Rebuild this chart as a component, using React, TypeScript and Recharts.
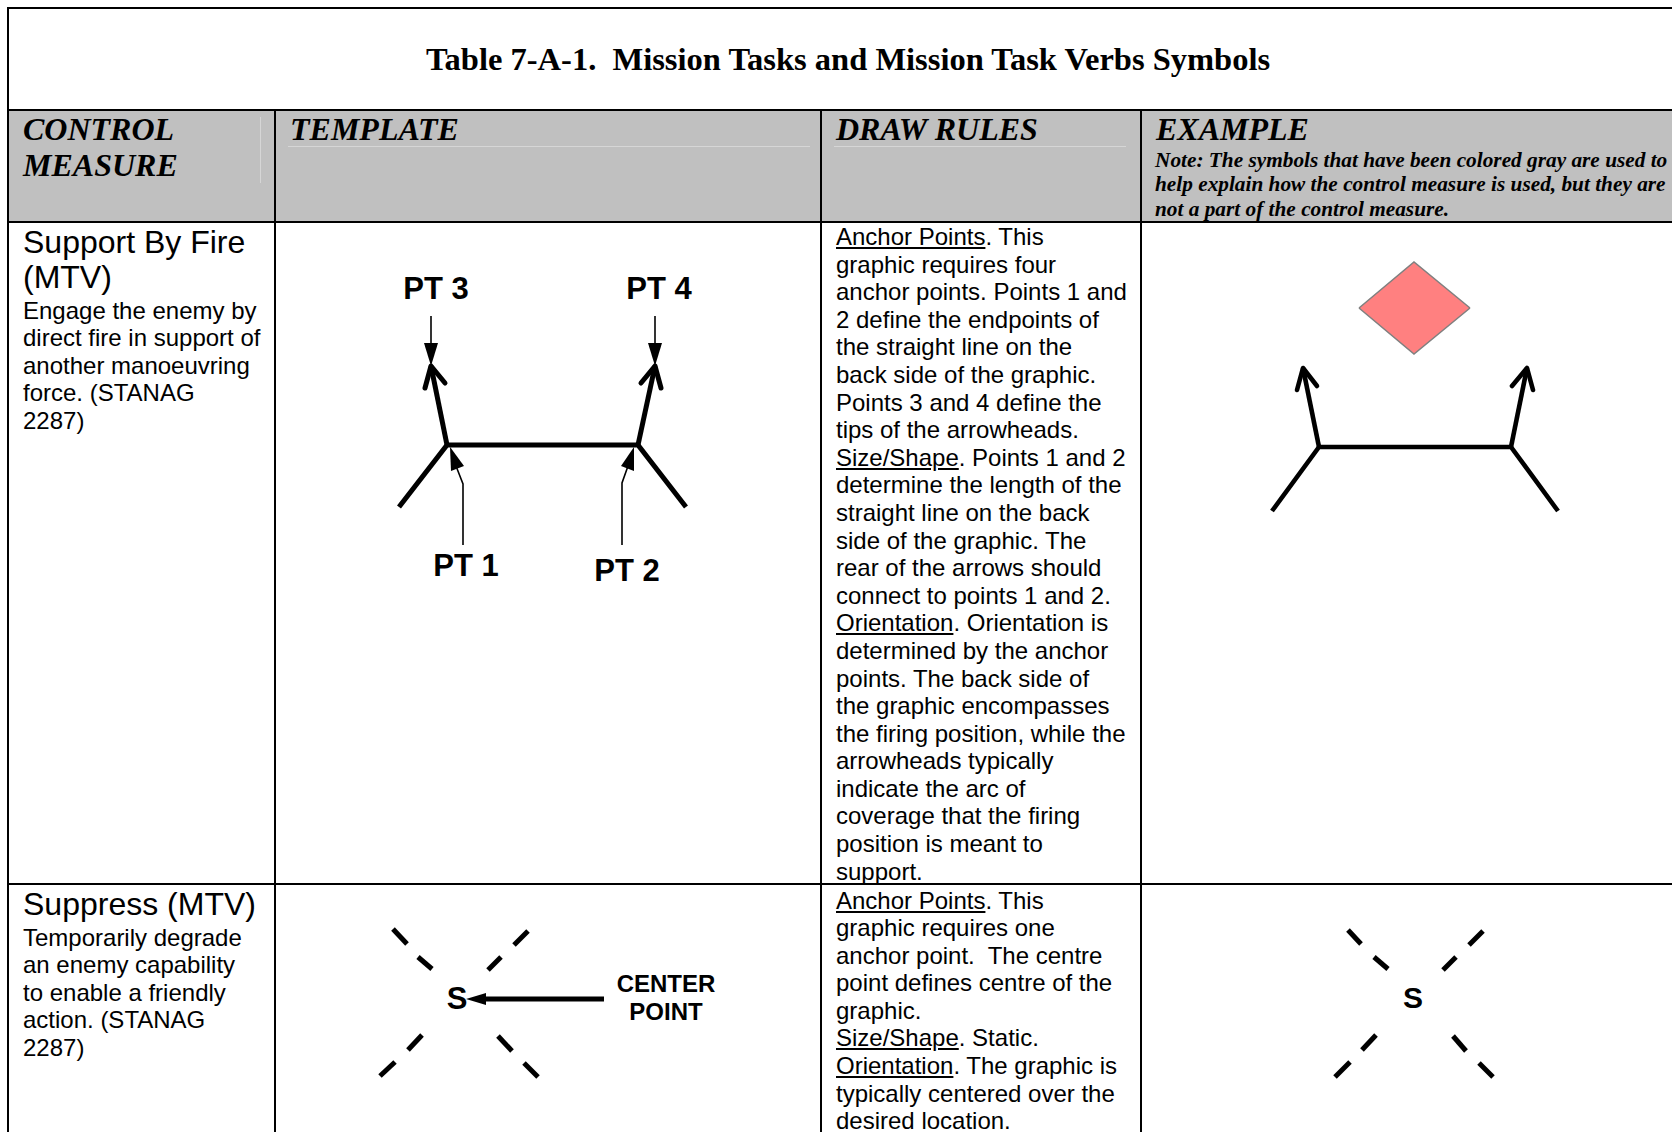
import React from "react";
import { ComposedChart, Line, Area, XAxis, YAxis } from "recharts";

type P = [number, number];

// ---------------- text content ----------------
const TITLE = "Table 7-A-1.  Mission Tasks and Mission Task Verbs Symbols";
const HEADER_CONTROL = ["CONTROL", "MEASURE"];
const HEADER_TEMPLATE = ["TEMPLATE"];
const HEADER_RULES = ["DRAW RULES"];
const HEADER_EXAMPLE = ["EXAMPLE"];
const EXAMPLE_NOTE = [
  "Note: The symbols that have been colored gray are used to",
  "help explain how the control measure is used, but they are",
  "not a part of the control measure.",
];

const SBF_NAME = ["Support By Fire", "(MTV)"];
const SBF_DESC = ["Engage the enemy by", "direct fire in support of", "another manoeuvring", "force. (STANAG", "2287)"];
const SBF_RULES = [
  "_Anchor Points_. This",
  "graphic requires four",
  "anchor points. Points 1 and",
  "2 define the endpoints of",
  "the straight line on the",
  "back side of the graphic.",
  "Points 3 and 4 define the",
  "tips of the arrowheads.",
  "_Size/Shape_. Points 1 and 2",
  "determine the length of the",
  "straight line on the back",
  "side of the graphic. The",
  "rear of the arrows should",
  "connect to points 1 and 2.",
  "_Orientation_. Orientation is",
  "determined by the anchor",
  "points. The back side of",
  "the graphic encompasses",
  "the firing position, while the",
  "arrowheads typically",
  "indicate the arc of",
  "coverage that the firing",
  "position is meant to",
  "support.",
];
const SBF_LABELS = ["PT 3", "PT 4", "PT 1", "PT 2"];

const SUP_NAME = ["Suppress (MTV)"];
const SUP_DESC = ["Temporarily degrade", "an enemy capability", "to enable a friendly", "action. (STANAG", "2287)"];
const SUP_RULES = [
  "_Anchor Points_. This",
  "graphic requires one",
  "anchor point.  The centre",
  "point defines centre of the",
  "graphic.",
  "_Size/Shape_. Static.",
  "_Orientation_. The graphic is",
  "typically centered over the",
  "desired location.",
];
const SUP_CENTER_LABEL = ["CENTER", "POINT"];
const SUP_LETTER = "S";

// ---------------- symbol geometry (anchor points) ----------------
// Support By Fire template
const SBF_T_OUTLINE: P[] = [[399, 507], [447, 445], [638, 445], [686, 507]];
const SBF_T_SHAFT_L: P[] = [[447, 445], [431, 366]];
const SBF_T_SHAFT_R: P[] = [[638, 445], [655, 366]];
const SBF_T_HEAD_L: P[] = [[425, 388], [431, 366], [445, 383]];
const SBF_T_HEAD_R: P[] = [[641, 383], [655, 366], [661, 388]];
const SBF_T_PTR3: P[] = [[431, 316], [431, 348]];
const SBF_T_PTR4: P[] = [[655, 316], [655, 348]];
const SBF_T_PTR1: P[] = [[463, 545], [463, 484], [456, 466]];
const SBF_T_PTR2: P[] = [[622, 545], [622, 483], [628, 466]];
const SBF_T_TIP3: P[] = [[424, 343], [438, 343], [431, 366]];
const SBF_T_TIP4: P[] = [[648, 343], [662, 343], [655, 366]];
const SBF_T_TIP1: P[] = [[450, 447], [464, 466], [451, 471]];
const SBF_T_TIP2: P[] = [[634, 447], [621, 466], [634, 471]];

// Support By Fire example
const SBF_E_OUTLINE: P[] = [[1272, 511], [1319, 447], [1511, 447], [1558, 511]];
const SBF_E_SHAFT_L: P[] = [[1319, 447], [1303, 368]];
const SBF_E_SHAFT_R: P[] = [[1511, 447], [1527, 368]];
const SBF_E_HEAD_L: P[] = [[1297, 390], [1303, 368], [1317, 386]];
const SBF_E_HEAD_R: P[] = [[1512, 386], [1527, 368], [1533, 390]];
const SBF_E_DIAMOND: P[] = [[1359, 308], [1414, 262], [1470, 308], [1414, 354]];

// Suppress template
const SUP_T_DASHES: P[][] = [
  [[393, 929], [407, 944]], [[418, 957], [432, 969]],
  [[528, 931], [514, 945]], [[501, 957], [488, 970]],
  [[422, 1035], [408, 1050]], [[395, 1062], [380, 1076]],
  [[498, 1036], [512, 1051]], [[524, 1063], [538, 1077]],
];
const SUP_T_ARROW: P[] = [[604, 999], [482, 999]];
const SUP_T_TIP: P[] = [[466, 999], [486, 993], [486, 1005]];

// Suppress example
const SUP_E_DASHES: P[][] = [
  [[1348, 930], [1361, 944]], [[1374, 957], [1388, 969]],
  [[1483, 931], [1469, 945]], [[1456, 957], [1443, 970]],
  [[1376, 1035], [1362, 1050]], [[1350, 1062], [1335, 1077]],
  [[1453, 1036], [1466, 1051]], [[1479, 1063], [1493, 1077]],
];

// ---------------- helpers ----------------
type StrokeSpec = { pts: P[]; width: number; color?: string; cap?: "butt" | "round" | "square"; join?: "miter" | "round" };
type FillSpec = { pts: P[]; fill: string; stroke?: string; strokeWidth?: number };

const toLine = (pts: P[]) => pts.map(([x, y]) => ({ x, y }));

// Converts a convex polygon (triangle or diamond) into a range-area series.
function toRange(pts: P[]) {
  const xs = Array.from(new Set(pts.map((p) => p[0]))).sort((a, b) => a - b);
  const edgeYs = (x: number) => {
    const ys: number[] = [];
    for (let i = 0; i < pts.length; i++) {
      const a = pts[i];
      const b = pts[(i + 1) % pts.length];
      const lo = Math.min(a[0], b[0]);
      const hi = Math.max(a[0], b[0]);
      if (x < lo || x > hi) continue;
      if (a[0] === b[0]) {
        ys.push(a[1], b[1]);
      } else {
        ys.push(a[1] + ((b[1] - a[1]) * (x - a[0])) / (b[0] - a[0]));
      }
    }
    return [Math.min(...ys), Math.max(...ys)];
  };
  return xs.map((x) => ({ x, r: edgeYs(x) }));
}

function SymbolChart({ box, strokes, fills = [] }: { box: [number, number, number, number]; strokes: StrokeSpec[]; fills?: FillSpec[] }) {
  const [x0, y0, x1, y1] = box;
  const w = x1 - x0;
  const h = y1 - y0;
  return (
    <div style={{ position: "absolute", left: x0, top: y0, width: w, height: h }}>
      <ComposedChart width={w} height={h} margin={{ top: 0, right: 0, bottom: 0, left: 0 }}>
        <XAxis type="number" dataKey="x" domain={[x0, x1]} hide allowDataOverflow />
        <YAxis type="number" domain={[y0, y1]} reversed hide allowDataOverflow />
        {fills.map((f, i) => (
          <Area
            key={"f" + i}
            data={toRange(f.pts)}
            dataKey="r"
            type="linear"
            fill={f.fill}
            fillOpacity={1}
            stroke={f.stroke ?? "none"}
            strokeWidth={f.strokeWidth ?? 0}
            dot={false}
            activeDot={false}
            isAnimationActive={false}
          />
        ))}
        {strokes.map((s, i) => (
          <Line
            key={"s" + i}
            data={toLine(s.pts)}
            dataKey="y"
            type="linear"
            stroke={s.color ?? "#000"}
            strokeWidth={s.width}
            strokeLinecap={s.cap ?? "butt"}
            strokeLinejoin={s.join ?? "miter"}
            dot={false}
            activeDot={false}
            isAnimationActive={false}
          />
        ))}
      </ComposedChart>
    </div>
  );
}

function renderRich(line: string) {
  const parts = line.split("_");
  return parts.map((p, i) =>
    i % 2 === 1 ? (
      <span key={i} style={{ textDecoration: "underline" }}>{p}</span>
    ) : (
      <span key={i}>{p}</span>
    )
  );
}

const SANS = '"Liberation Sans", Arial, sans-serif';
const SERIF = '"Liberation Serif", "Times New Roman", serif';

function TextBlock({ x, top, lines, size, lh, family, weight = 400, italic = false }: any) {
  return (
    <div
      style={{
        position: "absolute",
        left: x,
        top,
        fontFamily: family,
        fontSize: size,
        lineHeight: `${lh}px`,
        fontWeight: weight,
        fontStyle: italic ? "italic" : "normal",
        whiteSpace: "pre",
        color: "#000",
      }}
    >
      {lines.map((l: string, i: number) => (
        <div key={i}>{renderRich(l)}</div>
      ))}
    </div>
  );
}

function CLabel({ x, y, text, size, weight = 700, family = SANS }: any) {
  return (
    <div
      style={{
        position: "absolute",
        left: x,
        top: y,
        transform: "translate(-50%, -50%)",
        fontFamily: family,
        fontSize: size,
        lineHeight: `${size}px`,
        fontWeight: weight,
        whiteSpace: "pre",
        color: "#000",
      }}
    >
      {text}
    </div>
  );
}

function Rule({ x, y, w, h, color = "#000" }: any) {
  return <div style={{ position: "absolute", left: x, top: y, width: w, height: h, background: color }} />;
}

export default function App() {
  const W = 1672;
  const H = 1132;
  const thick = 5;
  const thin = 1.6;
  return (
    <div style={{ position: "relative", width: W, height: H, overflow: "hidden", background: "#fff" }}>
      <style>{"body{margin:0;}"}</style>

      {/* header fill */}
      <Rule x={9} y={111} w={W - 9} h={110} color="#C0C0C0" />
      {/* faint artefact lines inside header */}
      <Rule x={260} y={117} w={1} h={66} color="#d6d6d6" />
      <Rule x={288} y={146} w={522} h={1} color="#d6d6d6" />
      <Rule x={834} y={146} w={292} h={1} color="#d6d6d6" />

      {/* table rules */}
      <Rule x={7} y={7} w={W - 7} h={2} />
      <Rule x={7} y={7} w={2} h={H - 7} />
      <Rule x={7} y={109} w={W - 7} h={2} />
      <Rule x={7} y={221} w={W - 7} h={2} />
      <Rule x={7} y={883} w={W - 7} h={2} />
      <Rule x={274} y={109} w={2} h={H - 109} />
      <Rule x={820} y={109} w={2} h={H - 109} />
      <Rule x={1140} y={109} w={2} h={H - 109} />

      {/* title */}
      <CLabel x={848} y={59} text={TITLE} size={32.5} family={SERIF} />

      {/* headers */}
      <TextBlock x={23} top={111} lines={HEADER_CONTROL} size={32} lh={36} family={SERIF} weight={700} italic />
      <TextBlock x={290} top={111} lines={HEADER_TEMPLATE} size={32} lh={36} family={SERIF} weight={700} italic />
      <TextBlock x={836} top={111} lines={HEADER_RULES} size={32} lh={36} family={SERIF} weight={700} italic />
      <TextBlock x={1156} top={111} lines={HEADER_EXAMPLE} size={32} lh={36} family={SERIF} weight={700} italic />
      <TextBlock x={1155} top={147.5} lines={EXAMPLE_NOTE} size={21.3} lh={24.5} family={SERIF} weight={700} italic />

      {/* row 1 */}
      <TextBlock x={23} top={225} lines={SBF_NAME} size={32} lh={35.2} family={SANS} />
      <TextBlock x={23} top={296.5} lines={SBF_DESC} size={24} lh={27.6} family={SANS} />
      <TextBlock x={836} top={223} lines={SBF_RULES} size={24} lh={27.6} family={SANS} />

      <SymbolChart
        box={[276, 223, 820, 883]}
        strokes={[
          { pts: SBF_T_OUTLINE, width: thick },
          { pts: SBF_T_SHAFT_L, width: thick },
          { pts: SBF_T_SHAFT_R, width: thick },
          { pts: SBF_T_HEAD_L, width: thick, cap: "round", join: "round" },
          { pts: SBF_T_HEAD_R, width: thick, cap: "round", join: "round" },
          { pts: SBF_T_PTR3, width: thin },
          { pts: SBF_T_PTR4, width: thin },
          { pts: SBF_T_PTR1, width: thin },
          { pts: SBF_T_PTR2, width: thin },
        ]}
        fills={[
          { pts: SBF_T_TIP3, fill: "#000" },
          { pts: SBF_T_TIP4, fill: "#000" },
          { pts: SBF_T_TIP1, fill: "#000" },
          { pts: SBF_T_TIP2, fill: "#000" },
        ]}
      />
      <CLabel x={436} y={288} text={SBF_LABELS[0]} size={31} />
      <CLabel x={659} y={288} text={SBF_LABELS[1]} size={31} />
      <CLabel x={466} y={565} text={SBF_LABELS[2]} size={31} />
      <CLabel x={627} y={570} text={SBF_LABELS[3]} size={31} />

      <SymbolChart
        box={[1142, 223, W, 883]}
        strokes={[
          { pts: SBF_E_OUTLINE, width: 4.6 },
          { pts: SBF_E_SHAFT_L, width: 4.6 },
          { pts: SBF_E_SHAFT_R, width: 4.6 },
          { pts: SBF_E_HEAD_L, width: 4.6, cap: "round", join: "round" },
          { pts: SBF_E_HEAD_R, width: 4.6, cap: "round", join: "round" },
        ]}
        fills={[{ pts: SBF_E_DIAMOND, fill: "#FF8080", stroke: "#808080", strokeWidth: 1.5 }]}
      />

      {/* row 2 */}
      <TextBlock x={23} top={886.5} lines={SUP_NAME} size={32} lh={35.2} family={SANS} />
      <TextBlock x={23} top={923.5} lines={SUP_DESC} size={24} lh={27.6} family={SANS} />
      <TextBlock x={836} top={886.5} lines={SUP_RULES} size={24} lh={27.6} family={SANS} />

      <SymbolChart
        box={[276, 885, 820, H]}
        strokes={[
          ...SUP_T_DASHES.map((d) => ({ pts: d, width: thick })),
          { pts: SUP_T_ARROW, width: thick },
        ]}
        fills={[{ pts: SUP_T_TIP, fill: "#000" }]}
      />
      <CLabel x={457} y={998} text={SUP_LETTER} size={31} />
      <CLabel x={666} y={984} text={SUP_CENTER_LABEL[0]} size={24} />
      <CLabel x={666} y={1012} text={SUP_CENTER_LABEL[1]} size={24} />

      <SymbolChart box={[1142, 885, W, H]} strokes={SUP_E_DASHES.map((d) => ({ pts: d, width: thick }))} />
      <CLabel x={1413} y={998} text={SUP_LETTER} size={30} />
    </div>
  );
}
